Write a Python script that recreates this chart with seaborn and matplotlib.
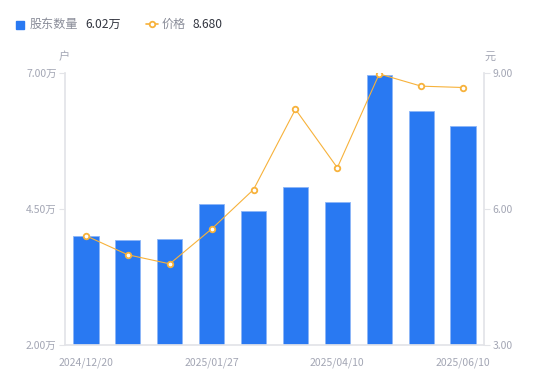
import numpy as np
import pandas as pd
import matplotlib
matplotlib.use("Agg")
import matplotlib.pyplot as plt
from matplotlib.lines import Line2D
from matplotlib.patches import Rectangle
import seaborn as sns

# data
dates = ["2024/12/20", "2024/12/31", "2025/01/10", "2025/01/27", "2025/02/28",
         "2025/03/20", "2025/04/10", "2025/04/30", "2025/05/20", "2025/06/10"]
holders = [4.00, 3.93, 3.95, 4.59, 4.46, 4.90, 4.63, 6.96, 6.30, 6.02]  # 万户
price = [5.41, 4.99, 4.79, 5.56, 6.43, 8.20, 6.91, 8.98, 8.71, 8.68]
shown_ticks = [0, 3, 6, 9]
left_ticks = [2.0, 4.5, 7.0]
right_ticks = [3.0, 6.0, 9.0]

df = pd.DataFrame({"date": dates, "holders": holders, "price": price})
df["pos"] = np.arange(len(df))

sns.set_theme(style="white")
plt.rcParams["font.family"] = ["Noto Sans CJK SC", "DejaVu Sans"]

blue = "#2979f2"
orange = "#f7b23b"
axis_grey = "#e3e4e8"
label_grey = "#a3a6b4"

fig = plt.figure(figsize=(5.5, 3.81), dpi=100)
ax = fig.add_axes([65 / 550, 1 - 345 / 381, 419 / 550, 272 / 381])

sns.barplot(data=df, x="date", y="holders", color=blue, width=0.6,
            edgecolor="#8db6f7", linewidth=0.6, saturation=1, ax=ax)
ax.set_xlim(-0.5, len(df) - 0.5)
ax.set_ylim(2.0, 7.0)
ax.set_yticks(left_ticks)
ax.set_yticklabels([f"{v:.2f}万" for v in left_ticks])
ax.set_xticks(shown_ticks)
ax.set_xticklabels([dates[i] for i in shown_ticks])
ax.set_xlabel("")
ax.set_ylabel("")

ax2 = ax.twinx()
sns.lineplot(data=df, x="pos", y="price", color=orange, linewidth=0.8,
             marker="o", markersize=4, markerfacecolor="white",
             markeredgecolor=orange, markeredgewidth=1.3, ax=ax2)
ax2.set_ylim(3.0, 9.0)
ax2.set_yticks(right_ticks)
ax2.set_yticklabels([f"{v:.2f}" for v in right_ticks])
ax2.set_ylabel("")
ax2.set_xlim(-0.5, len(df) - 0.5)

for a in (ax, ax2):
    for s in a.spines.values():
        s.set_visible(False)
    a.grid(False)
ax.spines["left"].set_visible(True)
ax.spines["left"].set_color(axis_grey)
ax.spines["bottom"].set_visible(True)
ax.spines["bottom"].set_color(axis_grey)
ax2.spines["right"].set_visible(True)
ax2.spines["right"].set_color(axis_grey)

ax.tick_params(axis="y", left=True, length=4, width=0.8, color=axis_grey,
               labelsize=7.5, labelcolor=label_grey, pad=2)
ax.tick_params(axis="x", bottom=False, labelsize=7.5, labelcolor=label_grey, pad=3)
ax2.tick_params(axis="y", right=True, length=4, width=0.8, color=axis_grey,
                labelsize=7.5, labelcolor=label_grey, pad=2)

# unit labels
fig.text(64 / 550, 1 - 57 / 381, "户", fontsize=8, color=label_grey, ha="center", va="center")
fig.text(490 / 550, 1 - 57 / 381, "元", fontsize=8, color=label_grey, ha="center", va="center")

# legend drawn by hand
fig.add_artist(Rectangle((16 / 550, 1 - 28.5 / 381), 8 / 550, 8 / 381,
                         transform=fig.transFigure, color=blue))
fig.text(30 / 550, 1 - 24 / 381, "股东数量", fontsize=8.7, color="#8a8d99", va="center")
fig.text(85 / 550, 1 - 24 / 381, f"{holders[-1]:.2f}万", fontsize=8.7, color="#333640", va="center")
fig.add_artist(Line2D([146 / 550, 158 / 550], [1 - 24 / 381] * 2, transform=fig.transFigure,
                      color=orange, linewidth=1.2))
fig.add_artist(Line2D([152 / 550], [1 - 24 / 381], transform=fig.transFigure,
                      color=orange, marker="o", markersize=4, markerfacecolor="white",
                      markeredgecolor=orange, markeredgewidth=1.3))
fig.text(162 / 550, 1 - 24 / 381, "价格", fontsize=8.7, color="#8a8d99", va="center")
fig.text(192 / 550, 1 - 24 / 381, f"{price[-1]:.3f}", fontsize=8.7, color="#333640", va="center")

fig.savefig("out.png", dpi=100)
